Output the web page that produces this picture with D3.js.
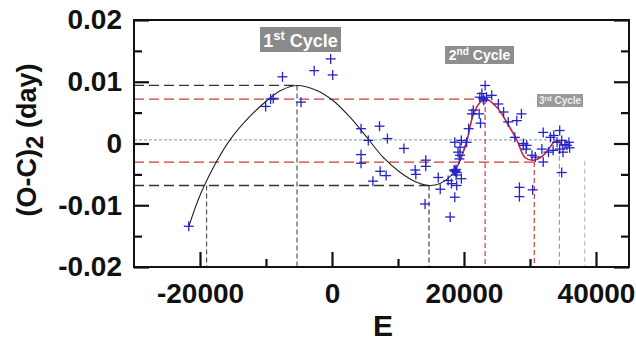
<!DOCTYPE html>
<html><head><meta charset="utf-8">
<script src="https://cdn.jsdelivr.net/npm/d3@7"></script>
<style>body{margin:0;background:#fff}svg{display:block}</style>
</head><body>
<script>
// ---- data ----
const xMajorTicks = [-20000, 0, 20000, 40000];
const xTickLabels = ["-20000", "0", "20000", "40000"];
const xMinorTicks = [-10000, 10000, 30000];
const yMajorTicks = [-0.02, -0.01, 0, 0.01, 0.02];
const yTickLabels = ["-0.02", "-0.01", "0", "0.01", "0.02"];
const yMinorTicks = [-0.015, -0.005, 0.005, 0.015];

// observed (O-C)2 points
const obsE = [-21700,-10050,-9300,-8900,-7500,-4700,-2700,-200,100,4400,7200,5500,8400,10900,4400,4400,7300,8200,6200,12600,12700,14200,14200,14100,
 16100,16400,17600,17900,18100,18600,18600,18900,18800,18900,19600,18600,19100,19400,19300,19400,19600,20400,20700,21200,21400,22300,22500,22700,22400,22900,23400,23200,24200,23000,25200,26000,26700,28000,28700,27700,29000,29400,29000,29500,28400,28400,30400,
 30300,30800,31800,32000,32000,32800,33100,33600,34500,34100,34800,35600,35900,34500,35000,33500,34800,35300,36000,18500,18700,18800];
const obsOC = [-0.0134,0.0060,0.0072,0.0073,0.0108,0.0067,0.0118,0.0137,0.0111,0.0024,0.0028,0.0005,0.0008,-0.0008,-0.0018,-0.0032,-0.0045,-0.0052,-0.0061,-0.0043,-0.0050,-0.0027,-0.0037,-0.0098,
 -0.0055,-0.0074,-0.0060,-0.0119,-0.0065,-0.0087,-0.0044,-0.0047,-0.0051,-0.0068,-0.0057,0.0002,-0.0014,-0.0019,-0.0025,-0.0006,0.0005,0.0002,0.0024,0.0048,0.0054,0.0048,0.0033,0.0081,0.0075,0.0073,0.0075,0.0094,0.0078,0.0070,0.0064,0.0051,0.0035,0.0037,0.0048,0.0010,-0.0003,-0.0009,0.0000,-0.0003,-0.0071,-0.0086,-0.0075,
 -0.0019,-0.0022,-0.0009,0.0018,-0.0030,-0.0014,0.0010,0.0013,0.0021,0.0002,0.0005,-0.0003,0.0002,-0.0009,-0.0014,-0.0011,-0.0047,-0.0002,-0.0007,-0.0043,-0.0045,-0.0042];

// fitted curve samples (first cycle, black)
const fit1E = [-21700,-19900,-17400,-15350,-12300,-9850,-7770,-5300,-2320,150,2730,5260,7730,10300,12830,14700,16360,18330,19400,20450];
const fit1OC = [-0.01345,-0.00815,-0.00276,0.00076,0.00454,0.00697,0.00859,0.0094,0.0086,0.00697,0.00426,0.00102,-0.00222,-0.00465,-0.00627,-0.0068,-0.00648,-0.00486,-0.00276,0.0005];
// fitted curve samples (second/third cycle, red)
const fit2E = [19400,20450,21360,22420,23300,25000,26500,28030,29240,30600,32000,33030,33790,34550,35050];
const fit2OC = [-0.00276,0.0005,0.00454,0.00665,0.0072,0.00583,0.0034,0.0005,-0.00227,-0.0027,-0.00194,-0.0006,0.00037,0.0002,-0.00086];

// reference lines
const hLines = [
  {v: 0.0094, e2: -5300, c: "#333", dash: "10,5"},
  {v: 0.0072, e2: 23200, c: "#cc3b3b", dash: "10,5"},
  {v: 0.0006, e2: 34450, c: "#8fb3b3", dash: "3,2"},
  {v: -0.0030, e2: 30650, c: "#cc3b3b", dash: "10,5"},
  {v: -0.0068, e2: 14700, c: "#333", dash: "10,5"}
];
const vLines = [
  {e: -19000, v: -0.0068, c: "#444"},
  {e: -5300, v: 0.0094, c: "#444"},
  {e: 14700, v: -0.0068, c: "#333"},
  {e: 23200, v: 0.0072, c: "#d02a2a"},
  {e: 30650, v: -0.0030, c: "#d02a2a"},
  {e: 34450, v: 0.0006, c: "#8a9ea6"},
  {e: 38300, v: -0.0028, c: "#a8bcc0"}
];

// ---- drawing ----
const W = 636, H = 341;
const svg = d3.select("body").append("svg").attr("width", W).attr("height", H);
const x = d3.scaleLinear().domain([-30000, 45000]).range([134, 629]);
const y = d3.scaleLinear().domain([-0.02, 0.02]).range([267, 20]);
const font = "'Liberation Sans', Arial, sans-serif";

// reference lines
hLines.forEach(h => {
  svg.append("line").attr("x1", x(-30000)).attr("x2", x(h.e2))
    .attr("y1", y(h.v)).attr("y2", y(h.v))
    .attr("stroke", h.c).attr("stroke-width", 1.3).attr("stroke-dasharray", h.dash);
});
vLines.forEach(l => {
  svg.append("line").attr("x1", x(l.e)).attr("x2", x(l.e))
    .attr("y1", y(l.v)).attr("y2", y(-0.02))
    .attr("stroke", l.c).attr("stroke-width", 1.1).attr("stroke-dasharray", "5,3");
});

// fitted curves
const line = d3.line().x(d => x(d[0])).y(d => y(d[1])).curve(d3.curveCatmullRom);
svg.append("path").datum(fit1E.map((e, i) => [e, fit1OC[i]]))
  .attr("d", line).attr("fill", "none").attr("stroke", "#222").attr("stroke-width", 1.1);
svg.append("path").datum(fit2E.map((e, i) => [e, fit2OC[i]]))
  .attr("d", line).attr("fill", "none").attr("stroke", "#d0232f").attr("stroke-width", 1.6);

// observed points as plus markers
const pts = svg.append("g").attr("stroke", "#2424c8").attr("stroke-width", 1.3);
obsE.forEach((e, i) => {
  const cx = x(e), cy = y(obsOC[i]), r = 5;
  pts.append("line").attr("x1", cx - r).attr("x2", cx + r).attr("y1", cy).attr("y2", cy);
  pts.append("line").attr("x1", cx).attr("x2", cx).attr("y1", cy - r).attr("y2", cy + r);
});

// frame
svg.append("rect").attr("x", 134).attr("y", 20).attr("width", 495).attr("height", 247)
  .attr("fill", "none").attr("stroke", "#111").attr("stroke-width", 2);

// axes
function styleAxis(g) {
  g.select(".domain").remove();
  g.selectAll(".tick line").attr("stroke", "#111").attr("stroke-width", 2.2);
  g.selectAll("text").attr("font-family", font).attr("font-weight", "bold")
    .attr("font-size", 28).attr("fill", "#111");
}
svg.append("g").attr("transform", "translate(0,267)")
  .call(d3.axisBottom(x).tickValues(xMajorTicks).tickSize(-15).tickPadding(16)
    .tickFormat((d, i) => xTickLabels[i])).call(styleAxis);
svg.append("g").attr("transform", "translate(0,267)")
  .call(d3.axisBottom(x).tickValues(xMinorTicks).tickSize(-8).tickFormat("")).call(styleAxis);
svg.append("g").attr("transform", "translate(134,0)")
  .call(d3.axisLeft(y).tickValues(yMajorTicks).tickSize(-15).tickPadding(12)
    .tickFormat((d, i) => yTickLabels[i])).call(styleAxis);
svg.append("g").attr("transform", "translate(134,0)")
  .call(d3.axisLeft(y).tickValues(yMinorTicks).tickSize(-8).tickFormat("")).call(styleAxis);
svg.append("g").attr("transform", "translate(629,0)")
  .call(d3.axisRight(y).tickValues(yMajorTicks).tickSize(-15).tickFormat("")).call(styleAxis);
svg.append("g").attr("transform", "translate(629,0)")
  .call(d3.axisRight(y).tickValues(yMinorTicks).tickSize(-8).tickFormat("")).call(styleAxis);

// axis titles
svg.append("text").attr("x", 383).attr("y", 336).attr("text-anchor", "middle")
  .attr("font-family", font).attr("font-weight", "bold").attr("font-size", 30).attr("fill", "#111").text("E");
const yl = svg.append("text").attr("transform", "translate(36,140) rotate(-90)")
  .attr("text-anchor", "middle").attr("font-family", font).attr("font-weight", "bold")
  .attr("font-size", 27).attr("fill", "#111");
yl.append("tspan").text("(O-C)");
yl.append("tspan").attr("dy", 7).attr("font-size", 24).text("2");
yl.append("tspan").attr("dy", -7).text(" (day)");

// cycle labels
function cycleLabel(bx, by, bw, bh, num, sup, fs, fill, tc) {
  svg.append("rect").attr("x", bx).attr("y", by).attr("width", bw).attr("height", bh).attr("fill", fill);
  const t = svg.append("text").attr("x", bx + bw / 2).attr("y", by + bh * 0.8)
    .attr("text-anchor", "middle").attr("font-family", font).attr("font-weight", "bold")
    .attr("font-size", fs).attr("fill", tc);
  t.append("tspan").text(num);
  t.append("tspan").attr("font-size", fs * 0.72).attr("dy", -fs * 0.38).text(sup);
  t.append("tspan").attr("dy", fs * 0.38).text(" Cycle");
}
cycleLabel(260, 27, 81, 25, "1", "st", 18, "#8a8a8a", "#fff");
cycleLabel(445, 46, 69, 18, "2", "nd", 14, "#8e8e8e", "#fff");
cycleLabel(537, 94, 46, 13, "3", "rd", 10, "#9a9a9a", "#eee");
</script>
</body></html>
